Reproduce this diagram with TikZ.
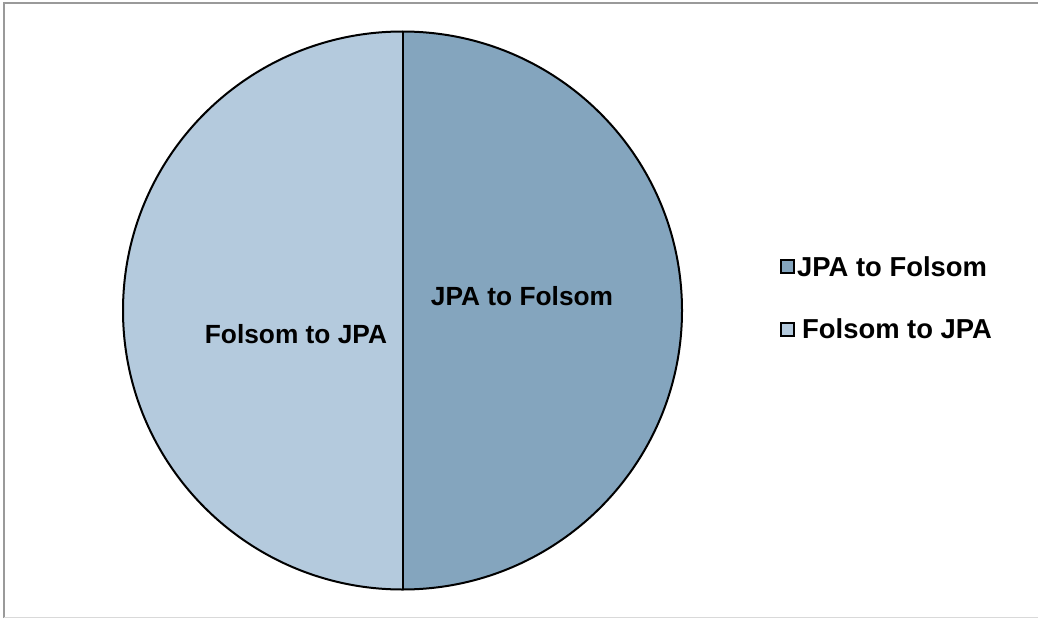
\documentclass[tikz,border=0pt]{standalone}
\usepackage{fontspec}
\setmainfont{Liberation Sans}
\definecolor{sliceA}{HTML}{84A5BE}
\definecolor{sliceB}{HTML}{B4CADD}
\definecolor{frameC}{HTML}{9A9A9A}
\begin{document}
\begin{tikzpicture}[x=1pt,y=-1pt,
  lbl/.style={font=\fontsize{26.3}{30}\selectfont\bfseries, inner sep=0pt},
  leglbl/.style={font=\fontsize{27.4}{30}\selectfont\bfseries, inner sep=0pt, anchor=west},
  legbox/.style={draw=black, line width=1.6pt, minimum size=13pt, inner sep=0pt}]
\useasboundingbox (0,0) rectangle (1038,618);
% frame
\draw[frameC, line width=2.2pt] (4,618) -- (4,3) -- (1040,3);
\draw[gray!30, line width=1pt] (4,617) -- (1040,617);
% pie
\coordinate (c) at (402.5,310.5);
\fill[sliceA] (c) -- (402.5,31.5) arc[start angle=90, end angle=-90, x radius=279.5, y radius=-279] -- cycle;
\fill[sliceB] (c) -- (402.5,31.5) arc[start angle=90, end angle=270, x radius=279.5, y radius=-279] -- cycle;
\draw[black, line width=2pt] (c) ellipse[x radius=279.5, y radius=279];
\draw[black, line width=2pt] (402.5,31.5) -- (402.5,589.5);
% labels
\node[lbl] (la) at (522,296) {JPA to Folsom};
\node[lbl] (lb) at (296,334) {Folsom to JPA};
% legend
\node[legbox, fill=sliceA] (ka) at (787.5,266.5) {};
\node[leglbl] (ta) at (797,267) {JPA to Folsom};
\node[legbox, fill=sliceB] (kb) at (787.5,329.5) {};
\node[leglbl] (tb) at (802,329) {Folsom to JPA};
\end{tikzpicture}
\end{document}
